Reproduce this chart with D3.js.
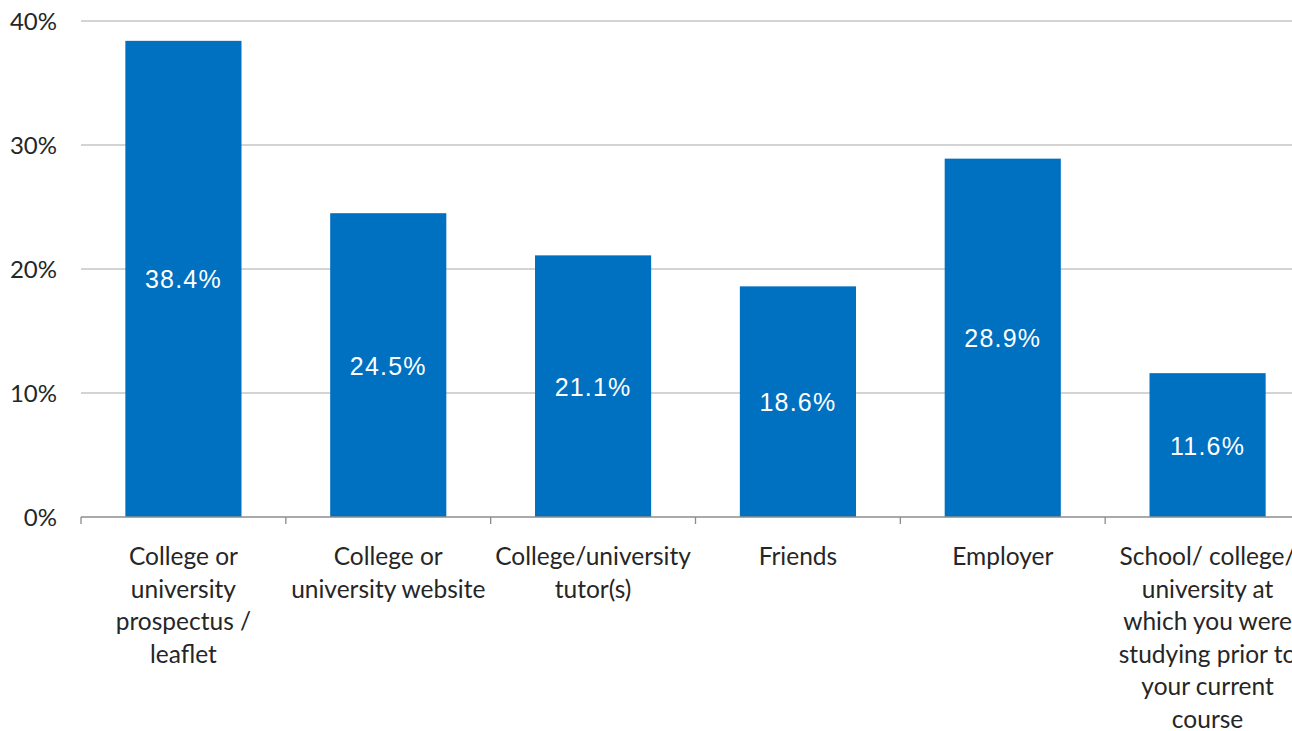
<!DOCTYPE html>
<html>
<head>
<meta charset="utf-8">
<script src="https://cdn.jsdelivr.net/npm/d3@7"></script>
<style>
  html, body { margin: 0; padding: 0; background: #fff; overflow: hidden; }
  svg { display: block; }
</style>
</head>
<body>
<svg id="chart" width="1292" height="731"></svg>
<script>
// Sources of information about the course (share of respondents)
const categories = [
  "College or university prospectus / leaflet",
  "College or university website",
  "College/university tutor(s)",
  "Friends",
  "Employer",
  "School/ college/ university at which you were studying prior to your current course"
];
// Line breaks used for each axis label
const categoryLines = [
  ["College or", "university", "prospectus /", "leaflet"],
  ["College or", "university website"],
  ["College/university", "tutor(s)"],
  ["Friends"],
  ["Employer"],
  ["School/ college/", "university at", "which you were", "studying prior to", "your current", "course"]
];
const values = [38.4, 24.5, 21.1, 18.6, 28.9, 11.6];
const yTicks = [0, 10, 20, 30, 40];

const svg = d3.select("#chart");
const plotLeft = 81, plotRight = 1310, plotTop = 21, plotBottom = 517;

const x = d3.scaleBand()
  .domain(categories)
  .range([plotLeft, plotRight])
  .paddingInner(0.433)
  .paddingOuter(0.2165);

const y = d3.scaleLinear().domain([0, 40]).range([plotBottom, plotTop]);

// Horizontal gridlines
svg.append("g")
  .selectAll("line")
  .data(yTicks.filter(d => d > 0))
  .join("line")
  .attr("x1", plotLeft).attr("x2", plotRight)
  .attr("y1", d => y(d)).attr("y2", d => y(d))
  .attr("stroke", "#c6c6c6").attr("stroke-width", 1.3);

// Y tick labels
svg.append("g")
  .selectAll("text")
  .data(yTicks)
  .join("text")
  .attr("x", 57)
  .attr("y", d => y(d))
  .attr("dy", "0.36em")
  .attr("text-anchor", "end")
  .attr("font-family", "Lato, 'Open Sans', sans-serif")
  .attr("font-size", 24)
  .attr("fill", "#262626")
  .text(d => d + "%");

// Bars
svg.append("g")
  .selectAll("rect")
  .data(values)
  .join("rect")
  .attr("x", (d, i) => x(categories[i]))
  .attr("width", x.bandwidth())
  .attr("y", d => y(d))
  .attr("height", d => y(0) - y(d))
  .attr("fill", "#0070c0");

// Value labels centred in each bar
svg.append("g")
  .selectAll("text")
  .data(values)
  .join("text")
  .attr("x", (d, i) => x(categories[i]) + x.bandwidth() / 2)
  .attr("y", d => (y(d) + y(0)) / 2)
  .attr("dy", "0.38em")
  .attr("text-anchor", "middle")
  .attr("font-family", "'Liberation Sans', Arial, sans-serif")
  .attr("font-size", 25)
  .attr("letter-spacing", 1.2)
  .attr("fill", "#ffffff")
  .text(d => d.toFixed(1) + "%");

// Category axis line and boundary ticks
const axis = svg.append("g");
axis.append("line")
  .attr("x1", plotLeft).attr("x2", plotRight)
  .attr("y1", plotBottom).attr("y2", plotBottom)
  .attr("stroke", "#8c8c8c").attr("stroke-width", 1.3);
const step = x.step();
axis.selectAll("line.tick")
  .data(d3.range(categories.length + 1))
  .join("line")
  .attr("class", "tick")
  .attr("x1", i => plotLeft + i * step).attr("x2", i => plotLeft + i * step)
  .attr("y1", plotBottom).attr("y2", plotBottom + 7)
  .attr("stroke", "#8c8c8c").attr("stroke-width", 1.3);

// Category labels
const labels = svg.append("g")
  .selectAll("text")
  .data(categories)
  .join("text")
  .attr("x", d => x(d) + x.bandwidth() / 2)
  .attr("y", 565)
  .attr("text-anchor", "middle")
  .attr("font-family", "Lato, 'Open Sans', sans-serif")
  .attr("font-size", 24.5)
  .attr("fill", "#262626");
labels.each(function(d, i) {
  const t = d3.select(this);
  categoryLines[i].forEach((line, k) => {
    t.append("tspan")
      .attr("x", x(d) + x.bandwidth() / 2)
      .attr("dy", k === 0 ? 0 : 32.5)
      .text(line);
  });
});
</script>
</body>
</html>
